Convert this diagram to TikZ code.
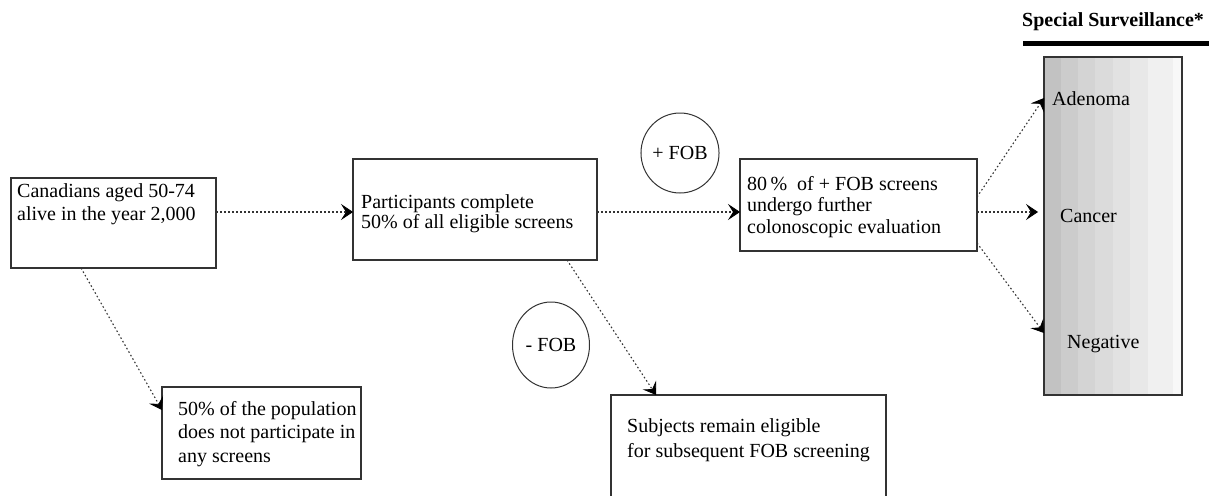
\documentclass[tikz,border=0pt]{standalone}
\usepackage{fontspec}
\setmainfont{Liberation Serif}
\usetikzlibrary{arrows.meta,shapes.geometric,calc}

\definecolor{edge}{HTML}{333333}
\definecolor{bandA}{HTML}{C2C2C2}
\definecolor{bandB}{HTML}{CCCCCC}
\definecolor{bandC}{HTML}{D4D4D4}
\definecolor{bandD}{HTML}{DBDBDB}
\definecolor{bandE}{HTML}{E2E2E2}
\definecolor{bandF}{HTML}{E8E8E8}
\definecolor{bandG}{HTML}{F0F0F0}
\definecolor{bandH}{HTML}{F8F8F8}

\tikzset{
  stagebox/.style={draw=edge, line width=1.2pt, rectangle, inner sep=0pt, outer sep=0pt, anchor=north west},
  % multi-line labels are placed by the baseline of their last line
  boxtext/.style={anchor=base west, align=left, inner sep=0pt, font=\fontsize{20}{#1}\selectfont},
  boxtext/.default=23,
  result/.style={draw=edge, line width=1pt, ellipse, inner sep=0pt, font=\fontsize{20}{23}\selectfont},
  flow/.style={draw=edge, line width=1.1pt, dash pattern=on 1.6pt off 2.4pt,
    -{Stealth[length=12pt,width=16pt,inset=5pt,color=black,line width=0.8pt]}},
}

\begin{document}
\begin{tikzpicture}[x=1pt,y=-1pt]
\useasboundingbox (0,0) rectangle (1209,495);

% boxes of the screening pathway
\node[stagebox, minimum width=205, minimum height=90] (b1) at (11,178) {};
\node[boxtext=23] (t1) at (17,220) {Canadians aged 50-74\\alive in the year 2,000};

\node[stagebox, minimum width=244, minimum height=101] (b2) at (353,159) {};
\node[boxtext=20] (t2) at (361,228) {Participants complete\\50\% of all eligible screens};

\node[stagebox, minimum width=237, minimum height=92] (b3) at (740,159) {};
\node[boxtext=21.5] (t3) at (747,233) {80\,\%\ \ of + FOB screens\\undergo further\\colonoscopic evaluation};

\node[stagebox, minimum width=199, minimum height=92] (b4) at (162,387) {};
\node[boxtext=23.5] (t4) at (178,462) {50\% of the population\\does not participate in\\any screens};

\node[stagebox, minimum width=275, minimum height=110] (b5) at (611,395) {};
\node[boxtext=25] (t5) at (627,457) {Subjects remain eligible\\for subsequent FOB screening};

% test result bubbles
\node[result, minimum width=77, minimum height=80] (pos) at (680,153) {+ FOB};
\node[result, minimum width=77, minimum height=86] (neg) at (551,345) {- FOB};

% special surveillance column with stepped shading
\fill[bandA] (1044,57) rectangle (1061,395);
\fill[bandB] (1061,57) rectangle (1078,395);
\fill[bandC] (1078,57) rectangle (1095,395);
\fill[bandD] (1095,57) rectangle (1113,395);
\fill[bandE] (1113,57) rectangle (1130,395);
\fill[bandF] (1130,57) rectangle (1148,395);
\fill[bandG] (1148,57) rectangle (1173,395);
\fill[bandH] (1173,57) rectangle (1182,395);
\node[stagebox, minimum width=138, minimum height=338] (surv) at (1044,57) {};

\node[anchor=base west, inner sep=0pt, font=\fontsize{20}{23}\selectfont\bfseries] (title) at (1022,27) {Special Surveillance*};
\fill (1023,41) rectangle (1209,46);

\node[anchor=base west, inner sep=0pt, font=\fontsize{20}{23}\selectfont] (aden) at (1052,105) {Adenoma};
\node[anchor=base west, inner sep=0pt, font=\fontsize{20}{23}\selectfont] (canc) at (1060,222) {Cancer};
\node[anchor=base west, inner sep=0pt, font=\fontsize{20}{23}\selectfont] (nega) at (1067,348) {Negative};

% connectors
\draw[flow] ([yshift=-34pt]b1.north east) -- ([yshift=-53pt]b2.north west);
\draw[flow] ([yshift=-53pt]b2.north east) -- ([yshift=-53pt]b3.north west);
\draw[flow] ([xshift=70pt]b1.south west) -- ([yshift=-23pt]b4.north west);
\draw[flow] ([xshift=214pt]b2.south west) -- ([xshift=45pt]b5.north west);
\draw[flow] ([yshift=-38pt]b3.north east) -- ([yshift=-41pt]surv.north west);
\draw[flow] ([yshift=-53pt]b3.north east) -- ([xshift=-6pt,yshift=-155pt]surv.north west);
\draw[flow] ([yshift=-84pt]b3.north east) -- ([yshift=-276pt]surv.north west);
\end{tikzpicture}
\end{document}
